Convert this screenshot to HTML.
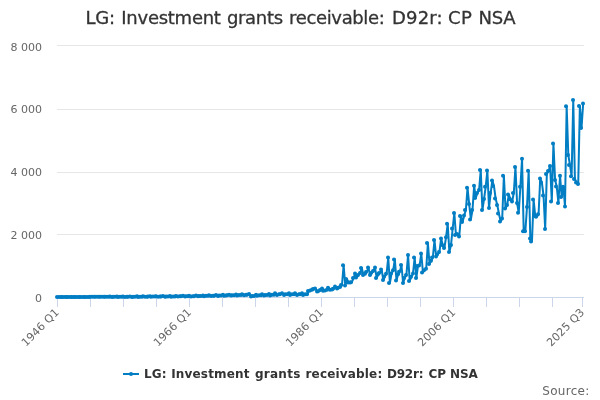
<!DOCTYPE html>
<html><head><meta charset="utf-8"><title>LG: Investment grants receivable: D92r: CP NSA</title>
<style>
html,body{margin:0;padding:0;background:#fff;}
body{width:600px;height:400px;overflow:hidden;}
svg{display:block;font-family:"DejaVu Sans","Liberation Sans",sans-serif;}
</style></head><body>
<svg width="600" height="400" viewBox="0 0 600 400">
<rect x="0" y="0" width="600" height="400" fill="#ffffff"/>
<g><path d="M 57 45.5 L 584 45.5" stroke="#e6e6e6" stroke-width="1" fill="none"/><path d="M 57 109.5 L 584 109.5" stroke="#e6e6e6" stroke-width="1" fill="none"/><path d="M 57 172.5 L 584 172.5" stroke="#e6e6e6" stroke-width="1" fill="none"/><path d="M 57 234.5 L 584 234.5" stroke="#e6e6e6" stroke-width="1" fill="none"/><path d="M 57 297.5 L 584 297.5" stroke="#e6e6e6" stroke-width="1" fill="none"/></g>
<path d="M 57 297.5 L 584 297.5" stroke="#ccd6eb" stroke-width="1" fill="none"/>
<g><path d="M 57.5 297 L 57.5 307" stroke="#ccd6eb" stroke-width="1" fill="none"/><path d="M 90.5 297 L 90.5 307" stroke="#ccd6eb" stroke-width="1" fill="none"/><path d="M 123.5 297 L 123.5 307" stroke="#ccd6eb" stroke-width="1" fill="none"/><path d="M 156.5 297 L 156.5 307" stroke="#ccd6eb" stroke-width="1" fill="none"/><path d="M 189.5 297 L 189.5 307" stroke="#ccd6eb" stroke-width="1" fill="none"/><path d="M 222.5 297 L 222.5 307" stroke="#ccd6eb" stroke-width="1" fill="none"/><path d="M 255.5 297 L 255.5 307" stroke="#ccd6eb" stroke-width="1" fill="none"/><path d="M 288.5 297 L 288.5 307" stroke="#ccd6eb" stroke-width="1" fill="none"/><path d="M 321.5 297 L 321.5 307" stroke="#ccd6eb" stroke-width="1" fill="none"/><path d="M 354.5 297 L 354.5 307" stroke="#ccd6eb" stroke-width="1" fill="none"/><path d="M 387.5 297 L 387.5 307" stroke="#ccd6eb" stroke-width="1" fill="none"/><path d="M 420.5 297 L 420.5 307" stroke="#ccd6eb" stroke-width="1" fill="none"/><path d="M 453.5 297 L 453.5 307" stroke="#ccd6eb" stroke-width="1" fill="none"/><path d="M 486.5 297 L 486.5 307" stroke="#ccd6eb" stroke-width="1" fill="none"/><path d="M 519.5 297 L 519.5 307" stroke="#ccd6eb" stroke-width="1" fill="none"/><path d="M 552.5 297 L 552.5 307" stroke="#ccd6eb" stroke-width="1" fill="none"/><path d="M 582.5 297 L 582.5 307" stroke="#ccd6eb" stroke-width="1" fill="none"/></g>
<g><path d="M 57.83 296.91 L 59.48 296.90 L 61.13 296.90 L 62.78 296.90 L 64.43 296.90 L 66.09 296.90 L 67.74 296.90 L 69.39 296.89 L 71.04 296.89 L 72.69 296.89 L 74.35 296.89 L 76.00 296.89 L 77.65 296.89 L 79.30 296.89 L 80.95 296.88 L 82.61 296.88 L 84.26 296.88 L 85.91 296.88 L 87.56 296.88 L 89.21 296.88 L 90.87 296.87 L 92.52 296.87 L 94.17 296.87 L 95.82 296.87 L 97.47 296.87 L 99.13 296.87 L 100.78 296.86 L 102.43 296.86 L 104.08 296.86 L 105.74 296.86 L 107.39 296.86 L 109.04 296.86 L 110.69 296.51 L 112.34 297.00 L 114.00 296.85 L 115.65 296.85 L 117.30 296.50 L 118.95 297.00 L 120.60 296.85 L 122.26 296.84 L 123.91 296.50 L 125.56 297.00 L 127.21 296.81 L 128.86 296.80 L 130.52 296.42 L 132.17 296.98 L 133.82 296.75 L 135.47 296.74 L 137.12 296.35 L 138.78 296.93 L 140.43 296.69 L 142.08 296.68 L 143.73 296.28 L 145.38 296.87 L 147.04 296.63 L 148.69 296.62 L 150.34 296.21 L 151.99 296.82 L 153.64 296.57 L 155.30 296.56 L 156.95 296.14 L 158.60 296.76 L 160.25 296.51 L 161.90 296.50 L 163.56 296.07 L 165.21 296.71 L 166.86 296.45 L 168.51 296.44 L 170.16 295.99 L 171.82 296.66 L 173.47 296.39 L 175.12 296.38 L 176.77 295.92 L 178.42 296.60 L 180.08 296.33 L 181.73 296.32 L 183.38 295.85 L 185.03 296.55 L 186.68 296.27 L 188.34 296.26 L 189.99 295.78 L 191.64 296.47 L 193.29 296.17 L 194.95 296.13 L 196.60 295.60 L 198.25 296.34 L 199.90 296.02 L 201.55 295.98 L 203.21 295.41 L 204.86 296.20 L 206.51 295.87 L 208.16 295.83 L 209.81 295.23 L 211.47 296.07 L 213.12 295.71 L 214.77 295.68 L 216.42 295.05 L 218.07 295.93 L 219.73 295.56 L 221.38 295.53 L 223.03 294.87 L 224.68 295.79 L 226.33 295.39 L 227.99 295.35 L 229.64 294.64 L 231.29 295.62 L 232.94 295.20 L 234.59 295.16 L 236.25 294.42 L 237.90 295.45 L 239.55 295.02 L 241.20 294.97 L 242.85 294.19 L 244.51 295.28 L 246.16 294.83 L 247.81 294.78 L 249.46 293.96 L 251.11 296.40 L 252.77 296.02 L 254.42 295.93 L 256.07 294.87 L 257.72 295.73 L 259.37 295.28 L 261.03 295.17 L 262.68 294.28 L 264.33 295.59 L 265.98 295.07 L 267.63 295.00 L 269.29 293.98 L 270.94 295.44 L 272.59 294.86 L 274.24 294.78 L 275.89 293.22 L 277.55 295.05 L 279.20 294.32 L 280.85 294.23 L 282.50 293.22 L 284.16 295.05 L 285.81 294.32 L 287.46 294.23 L 289.11 293.22 L 290.76 295.05 L 292.42 294.32 L 294.07 294.23 L 295.72 293.22 L 297.37 295.05 L 299.02 294.32 L 300.68 294.23 L 302.33 293.22 L 303.98 295.05 L 305.63 294.32 L 307.28 294.23 L 308.94 291.01 L 310.59 290.38 L 312.24 289.75 L 313.89 289.12 L 315.54 288.50 L 317.20 291.49 L 318.85 291.33 L 320.50 290.07 L 322.15 288.50 L 323.80 290.70 L 325.46 290.38 L 327.11 289.75 L 328.76 287.87 L 330.41 289.75 L 332.06 289.44 L 333.72 288.81 L 335.37 286.61 L 337.02 288.50 L 338.67 287.87 L 340.32 286.92 L 341.98 285.03 L 343.63 265.19 L 345.28 285.50 L 346.93 279.01 L 348.58 282.51 L 350.24 282.51 L 351.89 282.19 L 353.54 278.10 L 355.19 273.50 L 356.84 277.50 L 358.50 274.95 L 360.15 273.06 L 361.80 268.02 L 363.45 275.01 L 365.11 273.69 L 366.76 272.12 L 368.41 267.52 L 370.06 275.01 L 371.71 273.06 L 373.37 271.01 L 375.02 267.55 L 376.67 278.01 L 378.32 274.32 L 379.97 273.06 L 381.63 269.50 L 383.28 279.99 L 384.93 276.52 L 386.58 273.69 L 388.23 257.50 L 389.89 283.01 L 391.54 273.50 L 393.19 270.23 L 394.84 259.51 L 396.49 280.49 L 398.15 274.32 L 399.80 271.80 L 401.45 265.00 L 403.10 283.01 L 404.75 278.01 L 406.41 274.95 L 408.06 255.01 L 409.71 281.00 L 411.36 276.84 L 413.01 273.38 L 414.67 257.50 L 416.32 278.01 L 417.97 266.00 L 419.62 265.50 L 421.27 253.50 L 422.93 272.49 L 424.58 270.23 L 426.23 268.65 L 427.88 243.01 L 429.53 263.99 L 431.19 260.77 L 432.84 257.62 L 434.49 239.99 L 436.14 256.49 L 437.79 254.47 L 439.45 251.99 L 441.10 238.50 L 442.75 245.03 L 444.40 247.99 L 446.05 237.15 L 447.71 223.79 L 449.36 251.99 L 451.01 244.99 L 452.66 228.49 L 454.32 212.99 L 455.97 235.01 L 457.62 234.00 L 459.27 236.49 L 460.92 216.01 L 462.58 222.03 L 464.23 215.51 L 465.88 210.00 L 467.53 187.79 L 469.18 204.07 L 470.84 219.51 L 472.49 210.00 L 474.14 185.81 L 475.79 198.00 L 477.44 193.05 L 479.10 189.90 L 480.75 169.99 L 482.40 210.00 L 484.05 199.00 L 485.70 186.75 L 487.36 170.50 L 489.01 208.01 L 490.66 193.05 L 492.31 180.51 L 493.96 185.99 L 495.62 198.50 L 497.27 204.99 L 498.92 213.53 L 500.57 221.40 L 502.22 218.56 L 503.88 175.72 L 505.53 208.49 L 507.18 204.99 L 508.83 194.50 L 510.48 199.35 L 512.14 201.49 L 513.79 192.99 L 515.44 167.00 L 517.09 203.00 L 518.74 212.80 L 520.40 186.75 L 522.05 158.81 L 523.70 231.20 L 525.35 231.20 L 527.00 207.00 L 528.66 170.81 L 530.31 238.41 L 531.96 241.56 L 533.61 199.51 L 535.26 216.01 L 536.92 216.80 L 538.57 214.19 L 540.22 178.50 L 541.87 182.50 L 543.53 195.51 L 545.18 228.99 L 546.83 173.99 L 548.48 171.00 L 550.13 165.96 L 551.79 201.49 L 553.44 143.50 L 555.09 180.01 L 556.74 186.50 L 558.39 203.00 L 560.05 175.79 L 561.70 196.99 L 563.35 186.75 L 565.00 206.50 L 566.65 106.20 L 568.31 155.00 L 569.96 165.01 L 571.61 176.20 L 573.26 100.00 L 574.91 178.88 L 576.57 182.50 L 578.22 184.01 L 579.87 106.02 L 581.52 128.00 L 583.17 103.50" fill="none" stroke="#007dc3" stroke-width="2" stroke-linejoin="round" stroke-linecap="round"/>
<g fill="#007dc3"><circle cx="57" cy="296.91" r="2"/><circle cx="59" cy="296.90" r="2"/><circle cx="61" cy="296.90" r="2"/><circle cx="62" cy="296.90" r="2"/><circle cx="64" cy="296.90" r="2"/><circle cx="66" cy="296.90" r="2"/><circle cx="67" cy="296.90" r="2"/><circle cx="69" cy="296.89" r="2"/><circle cx="71" cy="296.89" r="2"/><circle cx="72" cy="296.89" r="2"/><circle cx="74" cy="296.89" r="2"/><circle cx="75" cy="296.89" r="2"/><circle cx="77" cy="296.89" r="2"/><circle cx="79" cy="296.89" r="2"/><circle cx="80" cy="296.88" r="2"/><circle cx="82" cy="296.88" r="2"/><circle cx="84" cy="296.88" r="2"/><circle cx="85" cy="296.88" r="2"/><circle cx="87" cy="296.88" r="2"/><circle cx="89" cy="296.88" r="2"/><circle cx="90" cy="296.87" r="2"/><circle cx="92" cy="296.87" r="2"/><circle cx="94" cy="296.87" r="2"/><circle cx="95" cy="296.87" r="2"/><circle cx="97" cy="296.87" r="2"/><circle cx="99" cy="296.87" r="2"/><circle cx="100" cy="296.86" r="2"/><circle cx="102" cy="296.86" r="2"/><circle cx="104" cy="296.86" r="2"/><circle cx="105" cy="296.86" r="2"/><circle cx="107" cy="296.86" r="2"/><circle cx="109" cy="296.86" r="2"/><circle cx="110" cy="296.51" r="2"/><circle cx="112" cy="297.00" r="2"/><circle cx="113" cy="296.85" r="2"/><circle cx="115" cy="296.85" r="2"/><circle cx="117" cy="296.50" r="2"/><circle cx="118" cy="297.00" r="2"/><circle cx="120" cy="296.85" r="2"/><circle cx="122" cy="296.84" r="2"/><circle cx="123" cy="296.50" r="2"/><circle cx="125" cy="297.00" r="2"/><circle cx="127" cy="296.81" r="2"/><circle cx="128" cy="296.80" r="2"/><circle cx="130" cy="296.42" r="2"/><circle cx="132" cy="296.98" r="2"/><circle cx="133" cy="296.75" r="2"/><circle cx="135" cy="296.74" r="2"/><circle cx="137" cy="296.35" r="2"/><circle cx="138" cy="296.93" r="2"/><circle cx="140" cy="296.69" r="2"/><circle cx="142" cy="296.68" r="2"/><circle cx="143" cy="296.28" r="2"/><circle cx="145" cy="296.87" r="2"/><circle cx="147" cy="296.63" r="2"/><circle cx="148" cy="296.62" r="2"/><circle cx="150" cy="296.21" r="2"/><circle cx="151" cy="296.82" r="2"/><circle cx="153" cy="296.57" r="2"/><circle cx="155" cy="296.56" r="2"/><circle cx="156" cy="296.14" r="2"/><circle cx="158" cy="296.76" r="2"/><circle cx="160" cy="296.51" r="2"/><circle cx="161" cy="296.50" r="2"/><circle cx="163" cy="296.07" r="2"/><circle cx="165" cy="296.71" r="2"/><circle cx="166" cy="296.45" r="2"/><circle cx="168" cy="296.44" r="2"/><circle cx="170" cy="295.99" r="2"/><circle cx="171" cy="296.66" r="2"/><circle cx="173" cy="296.39" r="2"/><circle cx="175" cy="296.38" r="2"/><circle cx="176" cy="295.92" r="2"/><circle cx="178" cy="296.60" r="2"/><circle cx="180" cy="296.33" r="2"/><circle cx="181" cy="296.32" r="2"/><circle cx="183" cy="295.85" r="2"/><circle cx="185" cy="296.55" r="2"/><circle cx="186" cy="296.27" r="2"/><circle cx="188" cy="296.26" r="2"/><circle cx="189" cy="295.78" r="2"/><circle cx="191" cy="296.47" r="2"/><circle cx="193" cy="296.17" r="2"/><circle cx="194" cy="296.13" r="2"/><circle cx="196" cy="295.60" r="2"/><circle cx="198" cy="296.34" r="2"/><circle cx="199" cy="296.02" r="2"/><circle cx="201" cy="295.98" r="2"/><circle cx="203" cy="295.41" r="2"/><circle cx="204" cy="296.20" r="2"/><circle cx="206" cy="295.87" r="2"/><circle cx="208" cy="295.83" r="2"/><circle cx="209" cy="295.23" r="2"/><circle cx="211" cy="296.07" r="2"/><circle cx="213" cy="295.71" r="2"/><circle cx="214" cy="295.68" r="2"/><circle cx="216" cy="295.05" r="2"/><circle cx="218" cy="295.93" r="2"/><circle cx="219" cy="295.56" r="2"/><circle cx="221" cy="295.53" r="2"/><circle cx="223" cy="294.87" r="2"/><circle cx="224" cy="295.79" r="2"/><circle cx="226" cy="295.39" r="2"/><circle cx="227" cy="295.35" r="2"/><circle cx="229" cy="294.64" r="2"/><circle cx="231" cy="295.62" r="2"/><circle cx="232" cy="295.20" r="2"/><circle cx="234" cy="295.16" r="2"/><circle cx="236" cy="294.42" r="2"/><circle cx="237" cy="295.45" r="2"/><circle cx="239" cy="295.02" r="2"/><circle cx="241" cy="294.97" r="2"/><circle cx="242" cy="294.19" r="2"/><circle cx="244" cy="295.28" r="2"/><circle cx="246" cy="294.83" r="2"/><circle cx="247" cy="294.78" r="2"/><circle cx="249" cy="293.96" r="2"/><circle cx="251" cy="296.40" r="2"/><circle cx="252" cy="296.02" r="2"/><circle cx="254" cy="295.93" r="2"/><circle cx="256" cy="294.87" r="2"/><circle cx="257" cy="295.73" r="2"/><circle cx="259" cy="295.28" r="2"/><circle cx="261" cy="295.17" r="2"/><circle cx="262" cy="294.28" r="2"/><circle cx="264" cy="295.59" r="2"/><circle cx="265" cy="295.07" r="2"/><circle cx="267" cy="295.00" r="2"/><circle cx="269" cy="293.98" r="2"/><circle cx="270" cy="295.44" r="2"/><circle cx="272" cy="294.86" r="2"/><circle cx="274" cy="294.78" r="2"/><circle cx="275" cy="293.22" r="2"/><circle cx="277" cy="295.05" r="2"/><circle cx="279" cy="294.32" r="2"/><circle cx="280" cy="294.23" r="2"/><circle cx="282" cy="293.22" r="2"/><circle cx="284" cy="295.05" r="2"/><circle cx="285" cy="294.32" r="2"/><circle cx="287" cy="294.23" r="2"/><circle cx="289" cy="293.22" r="2"/><circle cx="290" cy="295.05" r="2"/><circle cx="292" cy="294.32" r="2"/><circle cx="294" cy="294.23" r="2"/><circle cx="295" cy="293.22" r="2"/><circle cx="297" cy="295.05" r="2"/><circle cx="299" cy="294.32" r="2"/><circle cx="300" cy="294.23" r="2"/><circle cx="302" cy="293.22" r="2"/><circle cx="303" cy="295.05" r="2"/><circle cx="305" cy="294.32" r="2"/><circle cx="307" cy="294.23" r="2"/><circle cx="308" cy="291.01" r="2"/><circle cx="310" cy="290.38" r="2"/><circle cx="312" cy="289.75" r="2"/><circle cx="313" cy="289.12" r="2"/><circle cx="315" cy="288.50" r="2"/><circle cx="317" cy="291.49" r="2"/><circle cx="318" cy="291.33" r="2"/><circle cx="320" cy="290.07" r="2"/><circle cx="322" cy="288.50" r="2"/><circle cx="323" cy="290.70" r="2"/><circle cx="325" cy="290.38" r="2"/><circle cx="327" cy="289.75" r="2"/><circle cx="328" cy="287.87" r="2"/><circle cx="330" cy="289.75" r="2"/><circle cx="332" cy="289.44" r="2"/><circle cx="333" cy="288.81" r="2"/><circle cx="335" cy="286.61" r="2"/><circle cx="337" cy="288.50" r="2"/><circle cx="338" cy="287.87" r="2"/><circle cx="340" cy="286.92" r="2"/><circle cx="341" cy="285.03" r="2"/><circle cx="343" cy="265.19" r="2"/><circle cx="345" cy="285.50" r="2"/><circle cx="346" cy="279.01" r="2"/><circle cx="348" cy="282.51" r="2"/><circle cx="350" cy="282.51" r="2"/><circle cx="351" cy="282.19" r="2"/><circle cx="353" cy="278.10" r="2"/><circle cx="355" cy="273.50" r="2"/><circle cx="356" cy="277.50" r="2"/><circle cx="358" cy="274.95" r="2"/><circle cx="360" cy="273.06" r="2"/><circle cx="361" cy="268.02" r="2"/><circle cx="363" cy="275.01" r="2"/><circle cx="365" cy="273.69" r="2"/><circle cx="366" cy="272.12" r="2"/><circle cx="368" cy="267.52" r="2"/><circle cx="370" cy="275.01" r="2"/><circle cx="371" cy="273.06" r="2"/><circle cx="373" cy="271.01" r="2"/><circle cx="375" cy="267.55" r="2"/><circle cx="376" cy="278.01" r="2"/><circle cx="378" cy="274.32" r="2"/><circle cx="379" cy="273.06" r="2"/><circle cx="381" cy="269.50" r="2"/><circle cx="383" cy="279.99" r="2"/><circle cx="384" cy="276.52" r="2"/><circle cx="386" cy="273.69" r="2"/><circle cx="388" cy="257.50" r="2"/><circle cx="389" cy="283.01" r="2"/><circle cx="391" cy="273.50" r="2"/><circle cx="393" cy="270.23" r="2"/><circle cx="394" cy="259.51" r="2"/><circle cx="396" cy="280.49" r="2"/><circle cx="398" cy="274.32" r="2"/><circle cx="399" cy="271.80" r="2"/><circle cx="401" cy="265.00" r="2"/><circle cx="403" cy="283.01" r="2"/><circle cx="404" cy="278.01" r="2"/><circle cx="406" cy="274.95" r="2"/><circle cx="408" cy="255.01" r="2"/><circle cx="409" cy="281.00" r="2"/><circle cx="411" cy="276.84" r="2"/><circle cx="413" cy="273.38" r="2"/><circle cx="414" cy="257.50" r="2"/><circle cx="416" cy="278.01" r="2"/><circle cx="417" cy="266.00" r="2"/><circle cx="419" cy="265.50" r="2"/><circle cx="421" cy="253.50" r="2"/><circle cx="422" cy="272.49" r="2"/><circle cx="424" cy="270.23" r="2"/><circle cx="426" cy="268.65" r="2"/><circle cx="427" cy="243.01" r="2"/><circle cx="429" cy="263.99" r="2"/><circle cx="431" cy="260.77" r="2"/><circle cx="432" cy="257.62" r="2"/><circle cx="434" cy="239.99" r="2"/><circle cx="436" cy="256.49" r="2"/><circle cx="437" cy="254.47" r="2"/><circle cx="439" cy="251.99" r="2"/><circle cx="441" cy="238.50" r="2"/><circle cx="442" cy="245.03" r="2"/><circle cx="444" cy="247.99" r="2"/><circle cx="446" cy="237.15" r="2"/><circle cx="447" cy="223.79" r="2"/><circle cx="449" cy="251.99" r="2"/><circle cx="451" cy="244.99" r="2"/><circle cx="452" cy="228.49" r="2"/><circle cx="454" cy="212.99" r="2"/><circle cx="455" cy="235.01" r="2"/><circle cx="457" cy="234.00" r="2"/><circle cx="459" cy="236.49" r="2"/><circle cx="460" cy="216.01" r="2"/><circle cx="462" cy="222.03" r="2"/><circle cx="464" cy="215.51" r="2"/><circle cx="465" cy="210.00" r="2"/><circle cx="467" cy="187.79" r="2"/><circle cx="469" cy="204.07" r="2"/><circle cx="470" cy="219.51" r="2"/><circle cx="472" cy="210.00" r="2"/><circle cx="474" cy="185.81" r="2"/><circle cx="475" cy="198.00" r="2"/><circle cx="477" cy="193.05" r="2"/><circle cx="479" cy="189.90" r="2"/><circle cx="480" cy="169.99" r="2"/><circle cx="482" cy="210.00" r="2"/><circle cx="484" cy="199.00" r="2"/><circle cx="485" cy="186.75" r="2"/><circle cx="487" cy="170.50" r="2"/><circle cx="489" cy="208.01" r="2"/><circle cx="490" cy="193.05" r="2"/><circle cx="492" cy="180.51" r="2"/><circle cx="493" cy="185.99" r="2"/><circle cx="495" cy="198.50" r="2"/><circle cx="497" cy="204.99" r="2"/><circle cx="498" cy="213.53" r="2"/><circle cx="500" cy="221.40" r="2"/><circle cx="502" cy="218.56" r="2"/><circle cx="503" cy="175.72" r="2"/><circle cx="505" cy="208.49" r="2"/><circle cx="507" cy="204.99" r="2"/><circle cx="508" cy="194.50" r="2"/><circle cx="510" cy="199.35" r="2"/><circle cx="512" cy="201.49" r="2"/><circle cx="513" cy="192.99" r="2"/><circle cx="515" cy="167.00" r="2"/><circle cx="517" cy="203.00" r="2"/><circle cx="518" cy="212.80" r="2"/><circle cx="520" cy="186.75" r="2"/><circle cx="522" cy="158.81" r="2"/><circle cx="523" cy="231.20" r="2"/><circle cx="525" cy="231.20" r="2"/><circle cx="527" cy="207.00" r="2"/><circle cx="528" cy="170.81" r="2"/><circle cx="530" cy="238.41" r="2"/><circle cx="531" cy="241.56" r="2"/><circle cx="533" cy="199.51" r="2"/><circle cx="535" cy="216.01" r="2"/><circle cx="536" cy="216.80" r="2"/><circle cx="538" cy="214.19" r="2"/><circle cx="540" cy="178.50" r="2"/><circle cx="541" cy="182.50" r="2"/><circle cx="543" cy="195.51" r="2"/><circle cx="545" cy="228.99" r="2"/><circle cx="546" cy="173.99" r="2"/><circle cx="548" cy="171.00" r="2"/><circle cx="550" cy="165.96" r="2"/><circle cx="551" cy="201.49" r="2"/><circle cx="553" cy="143.50" r="2"/><circle cx="555" cy="180.01" r="2"/><circle cx="556" cy="186.50" r="2"/><circle cx="558" cy="203.00" r="2"/><circle cx="560" cy="175.79" r="2"/><circle cx="561" cy="196.99" r="2"/><circle cx="563" cy="186.75" r="2"/><circle cx="565" cy="206.50" r="2"/><circle cx="566" cy="106.20" r="2"/><circle cx="568" cy="155.00" r="2"/><circle cx="569" cy="165.01" r="2"/><circle cx="571" cy="176.20" r="2"/><circle cx="573" cy="100.00" r="2"/><circle cx="574" cy="178.88" r="2"/><circle cx="576" cy="182.50" r="2"/><circle cx="578" cy="184.01" r="2"/><circle cx="579" cy="106.02" r="2"/><circle cx="581" cy="128.00" r="2"/><circle cx="583" cy="103.50" r="2"/></g></g>
<text y="24" font-size="18" fill="#333333" stroke="#333333" stroke-width="0.3"><tspan x="85.40" letter-spacing="-0.200">LG: </tspan><tspan x="121.30" letter-spacing="-0.260">Investment </tspan><tspan x="226.90" letter-spacing="-0.300">grants </tspan><tspan x="289.10" letter-spacing="-0.360">receivable: </tspan><tspan x="392.00" letter-spacing="0.180">D92r: </tspan><tspan x="448.00" letter-spacing="0.350">CP </tspan><tspan x="478.60" letter-spacing="-0.300">NSA</tspan></text>
<g font-size="11" fill="#666666"><text x="42" y="51" text-anchor="end">8 000</text><text x="42" y="113" text-anchor="end">6 000</text><text x="42" y="176" text-anchor="end">4 000</text><text x="42" y="239" text-anchor="end">2 000</text><text x="42" y="302" text-anchor="end">0</text></g>
<g font-size="11" fill="#666666"><text x="59.83" y="313" text-anchor="end" letter-spacing="0.12" transform="rotate(-45 59.83 313)">1946 Q1</text><text x="191.99" y="313" text-anchor="end" letter-spacing="0.12" transform="rotate(-45 191.99 313)">1966 Q1</text><text x="324.15" y="313" text-anchor="end" letter-spacing="0.12" transform="rotate(-45 324.15 313)">1986 Q1</text><text x="456.32" y="313" text-anchor="end" letter-spacing="0.12" transform="rotate(-45 456.32 313)">2006 Q1</text><text x="585.17" y="313" text-anchor="end" letter-spacing="0.12" transform="rotate(-45 585.17 313)">2025 Q3</text></g>
<g>
<path d="M 123 374 L 139 374" stroke="#007dc3" stroke-width="2" fill="none"/>
<circle cx="131" cy="374" r="2" fill="#007dc3"/>
<text y="378" font-size="12" font-weight="bold" fill="#333333"><tspan x="144.00" letter-spacing="0.170">LG: </tspan><tspan x="171.20" letter-spacing="0.170">Investment </tspan><tspan x="255.00" letter-spacing="0.250">grants </tspan><tspan x="305.50" letter-spacing="0.170">receivable: </tspan><tspan x="387.00" letter-spacing="-0.220">D92r: </tspan><tspan x="428.50" letter-spacing="0.000">CP </tspan><tspan x="450.00" letter-spacing="-0.120">NSA</tspan></text>
</g>
<text x="589.5" y="395" text-anchor="end" font-size="12" fill="#666666" letter-spacing="0.27">Source:</text>
</svg>
</body></html>
